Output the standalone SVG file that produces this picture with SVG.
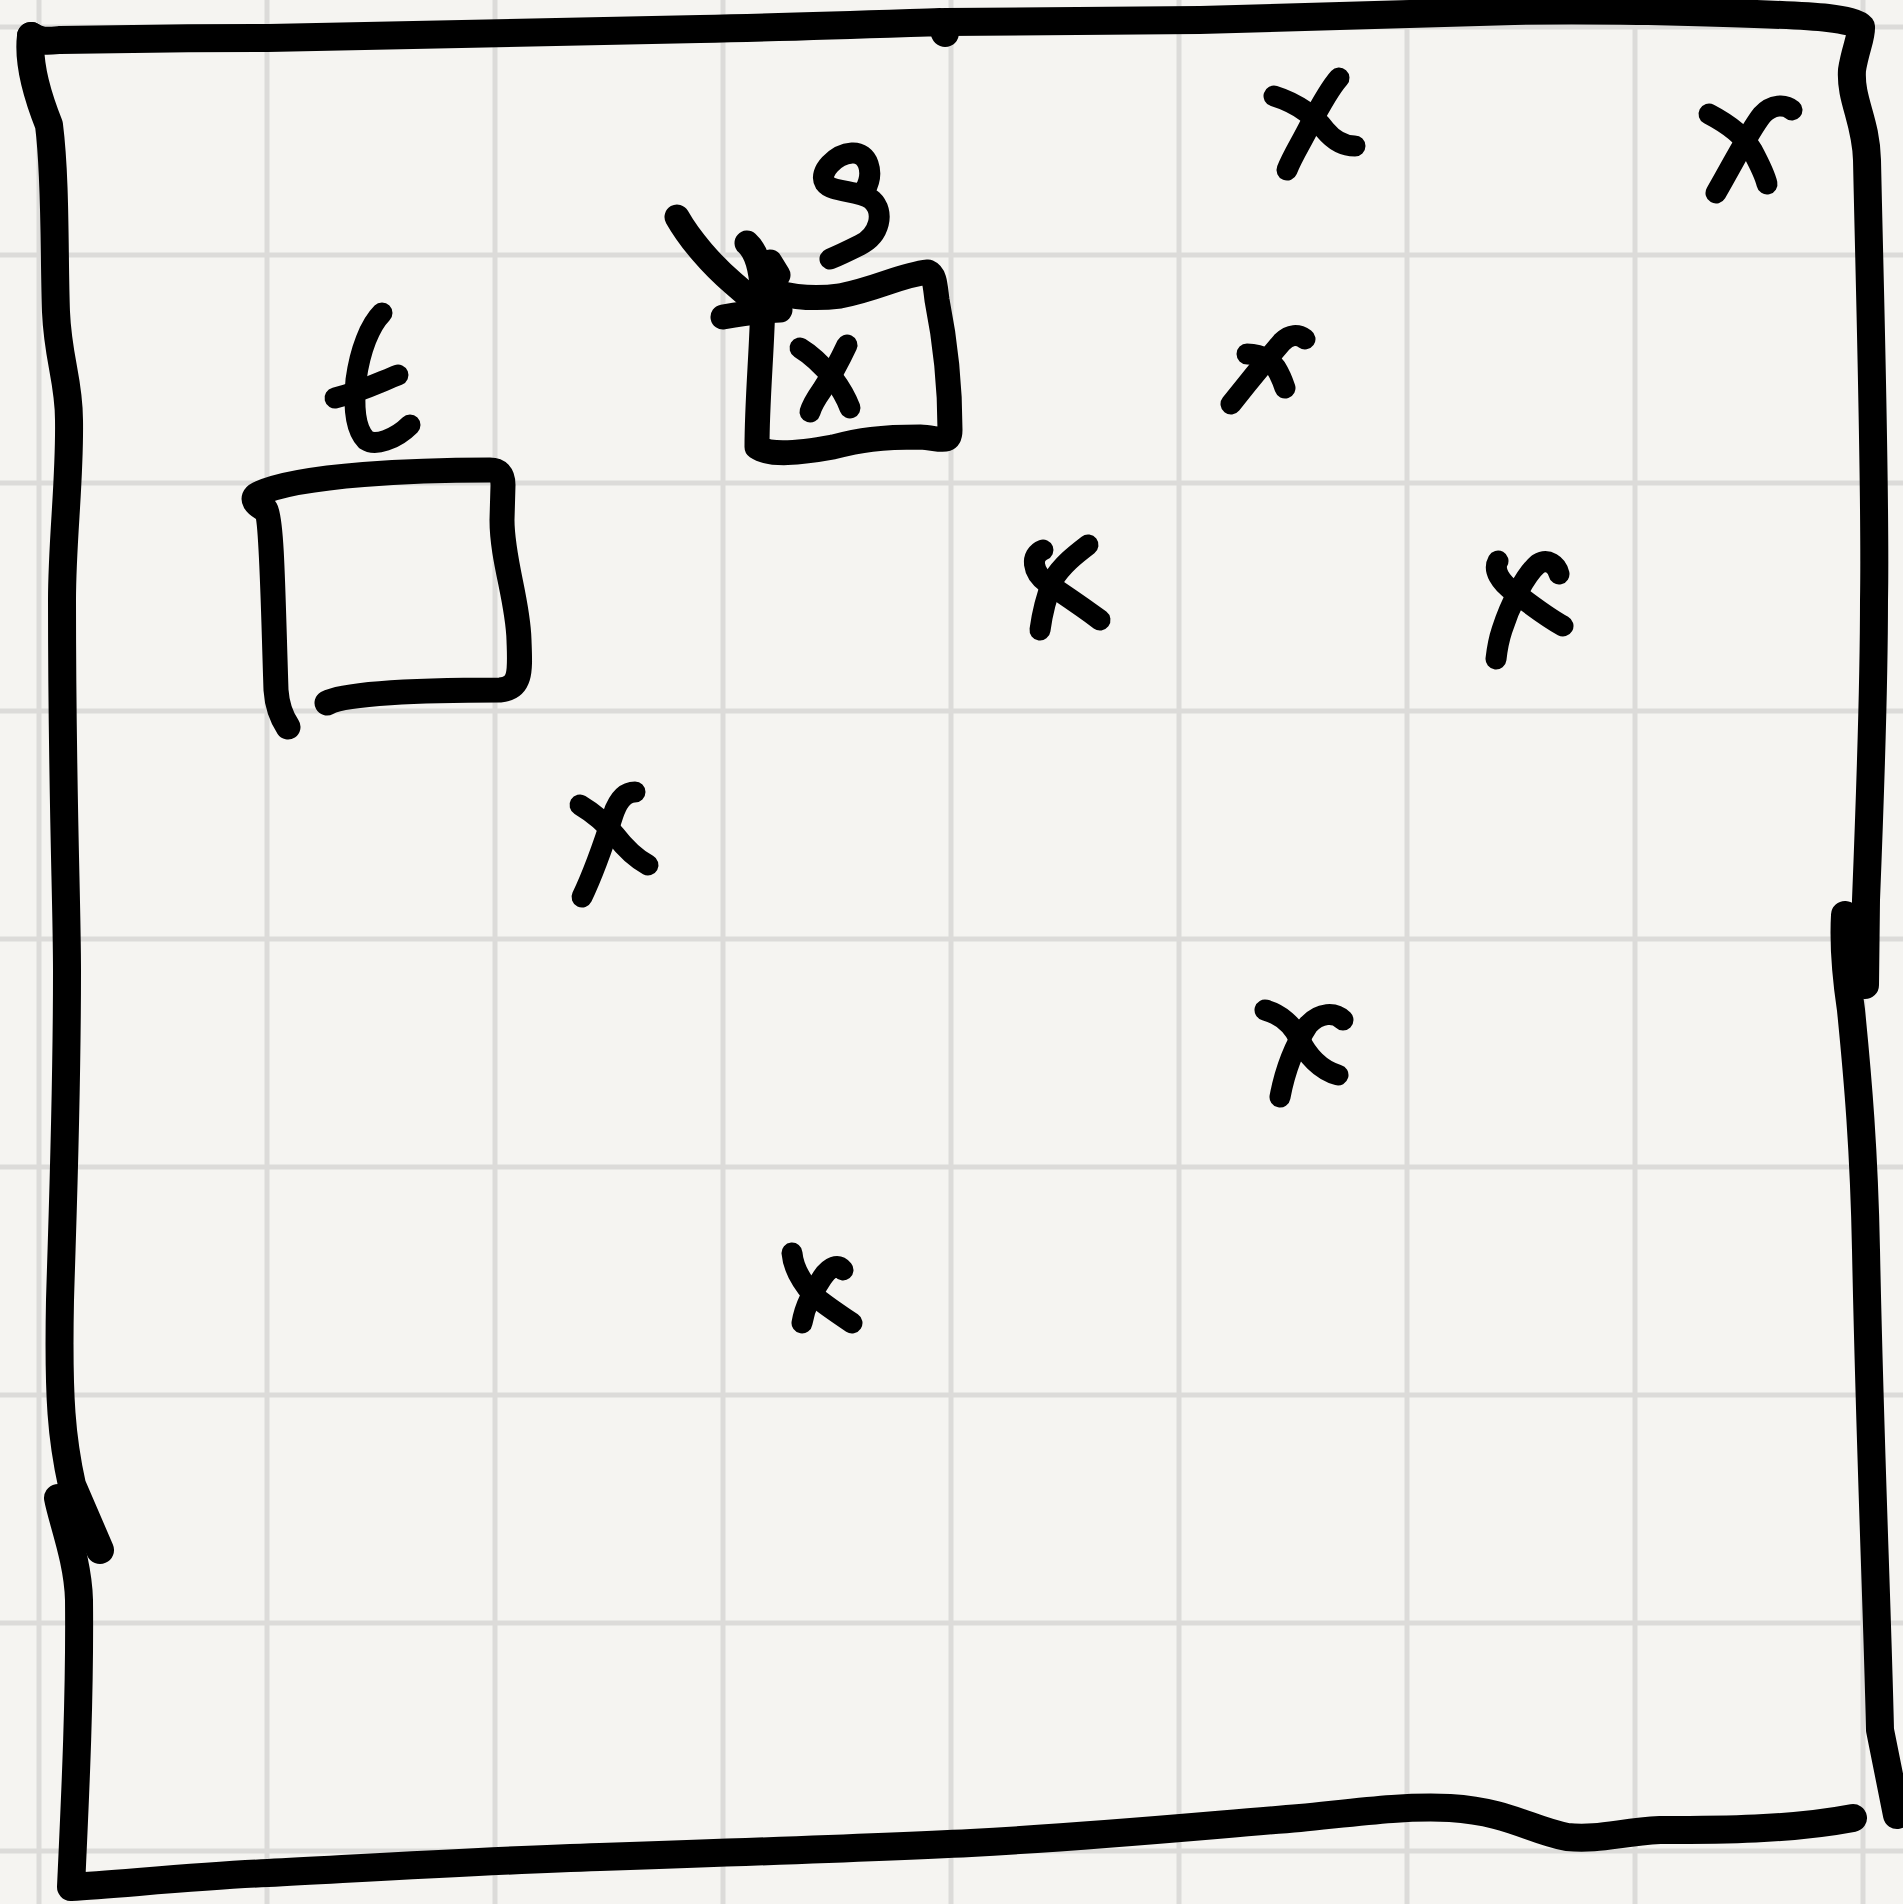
<svg xmlns="http://www.w3.org/2000/svg" width="1903" height="1904" viewBox="0 0 1903 1904">
<defs>
<style>
.grid{stroke:#dcdbd9;stroke-width:5;fill:none}
.ink{fill:none;stroke:#000;stroke-linecap:round;stroke-linejoin:round}
.frame{stroke-width:28}
.box{stroke-width:25}
.mark{stroke-width:21}
</style>
</defs>
<rect x="0" y="0" width="1903" height="1904" fill="#f5f4f1"/>
<g id="grid" class="grid">
<path d="M39 0V1904M267 0V1904M495 0V1904M723 0V1904M951 0V1904M1179 0V1904M1407 0V1904M1635 0V1904M1863 0V1904"/>
<path d="M0 27H1903M0 255H1903M0 483H1903M0 711H1903M0 939H1903M0 1167H1903M0 1395H1903M0 1623H1903M0 1851H1903"/>
</g>
<g id="frame" class="ink frame">
<path d="M31 36C40 42 48 41 60 40C120 39 200 38 268 38C450 35 600 31 700 29C800 27 880 24 940 22L945 33"/>
<path d="M945 22C1050 21 1130 21 1200 20C1350 16 1450 12 1514 11C1580 10 1620 11 1648 11C1740 13 1800 15 1828 18C1845 20 1858 23 1861 27C1862 36 1855 50 1852 70C1850 100 1866 120 1867 160C1870 300 1876 500 1874 600C1874 700 1870 800 1866 900L1865 985"/>
<path d="M1845 915C1843 950 1848 990 1851 1010C1858 1080 1864 1150 1866 1250C1870 1450 1877 1600 1880 1730L1897 1815"/>
<path d="M31 36C28 60 35 90 49 125C56 180 54 260 56 312C58 360 69 380 69 420C70 480 62 540 62 600C62 800 67 900 67 971C67 1100 63 1200 60 1300C58 1400 62 1440 72 1485L100 1550"/>
<path d="M58 1498C62 1520 78 1560 79 1600C80 1700 75 1800 71 1887C120 1884 200 1876 268 1873C400 1866 500 1860 600 1857C750 1852 870 1848 971 1843C1100 1836 1200 1826 1300 1818C1360 1812 1400 1806 1450 1808C1510 1812 1530 1830 1567 1837C1600 1840 1620 1832 1660 1830C1720 1830 1790 1830 1853 1818"/>
</g>
<g id="node-t">
<path class="ink box" d="M327 703C345 693 420 690 500 690C522 688 520 670 519 640C518 600 502 560 502 520L503 485C503 474 498 470 490 470C420 470 300 474 258 494C250 498 255 505 266 510C272 520 273 600 276 690C277 705 282 718 288 727"/>
<g id="label-t" class="ink mark">
<path d="M382 313C370 325 360 350 356 380C353 410 356 430 366 440C375 446 395 440 410 425"/>
<path d="M335 398C360 392 380 382 398 375"/>
</g>
</g>
<g id="node-s">
<path class="ink box" d="M747 243C757 252 762 270 763 300C762 350 757 400 757 447C770 456 800 453 833 447C860 440 880 437 920 437C940 438 950 445 950 430C950 390 945 340 937 300C935 285 935 275 928 272C900 275 880 288 840 296C810 300 790 296 778 293"/>
<path class="ink box" d="M770 262L778 275"/>
<g id="label-s" class="ink mark">
<path d="M865 190C875 172 868 152 852 153C836 154 818 172 825 183C832 193 860 190 872 200C885 212 880 235 860 245C850 250 840 255 830 259"/>
</g>
<g class="ink mark">
<path d="M800 348C810 354 822 365 833 378C842 390 847 400 850 408"/>
<path d="M847 345C840 360 830 378 822 390C815 400 812 405 810 412"/>
</g>
</g>
<g id="connectors" class="ink box">
<path d="M677 217C690 240 712 265 733 283L755 302"/>
<path d="M723 317C740 314 760 311 780 310"/>
</g>
<g id="marks" class="ink mark">
<g id="x1"><path d="M1274 96C1300 104 1317 119 1325 130C1335 142 1345 146 1355 146"/><path d="M1339 78C1330 88 1319 108 1310 125C1300 145 1293 155 1287 170"/></g>
<g id="x2"><path d="M1709 114C1730 125 1745 138 1752 150C1760 165 1765 175 1767 184"/><path d="M1792 110C1785 104 1772 104 1762 115C1750 130 1735 160 1716 193"/></g>
<g id="x3"><path d="M1247 354C1262 354 1270 360 1276 368C1281 376 1283 382 1285 388"/><path d="M1305 339C1298 334 1290 334 1282 342C1270 356 1250 380 1231 404"/></g>
<g id="x4"><path d="M1498 561C1493 570 1500 582 1514 592C1530 604 1545 616 1563 626"/><path d="M1559 574C1557 565 1548 558 1538 564C1525 575 1510 605 1502 630C1498 642 1497 650 1496 659"/></g>
<g id="x5"><path d="M1043 550C1030 555 1032 572 1047 583C1060 592 1080 605 1100 620"/><path d="M1088 545C1075 555 1062 565 1053 580C1047 595 1042 615 1040 630"/></g>
<g id="x6"><path d="M580 805C595 814 607 825 615 835C625 848 635 858 648 865"/><path d="M635 792C625 792 618 800 613 815C605 840 595 870 582 897"/></g>
<g id="x7"><path d="M1265 1010C1280 1014 1293 1025 1300 1040C1307 1055 1320 1070 1338 1075"/><path d="M1343 1020C1335 1012 1320 1012 1308 1025C1295 1045 1285 1070 1280 1097"/></g>
<g id="x8"><path d="M792 1253C793 1265 800 1280 813 1295C825 1305 840 1315 852 1323"/><path d="M843 1270C838 1264 830 1266 822 1278C813 1292 805 1305 802 1323"/></g>
</g>
</svg>
